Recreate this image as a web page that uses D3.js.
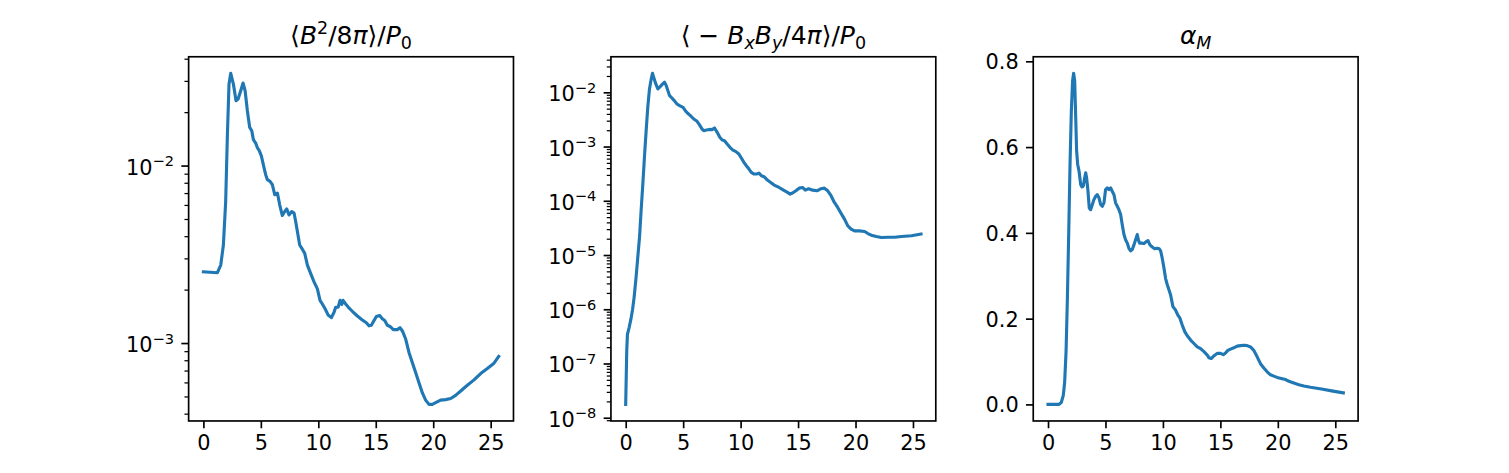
<!DOCTYPE html>
<html><head><meta charset="utf-8">
<script src="https://cdn.jsdelivr.net/npm/d3@7"></script>
<style>html,body{margin:0;padding:0;background:#fff;} svg{display:block;} text{font-family:"DejaVu Sans",sans-serif;fill:#000;}</style>
</head><body>
<svg id="chart" width="1509" height="473"></svg>
<script>
// ---------- data ----------
const t1 = [0,1.22,1.51,1.74,1.94,2.09,2.23,2.38,2.61,2.84,3.02,3.25,3.45,3.63,3.83,4.03,4.21,4.35,4.55,4.70,4.87,5.05,5.22,5.42,5.57,5.80,6.00,6.21,6.44,6.64,6.87,7.08,7.25,7.45,7.69,7.89,8.03,8.18,8.38,8.61,8.82,9.05,9.34,9.63,9.92,10.15,10.35,10.59,10.85,11.14,11.37,11.51,11.72,11.89,12.04,12.15,12.38,12.62,12.96,13.40,13.83,14.18,14.41,14.62,14.85,15.05,15.34,15.57,15.78,16.01,16.24,16.53,16.88,17.11,17.32,17.61,17.89,18.18,18.47,18.76,19.05,19.34,19.63,19.92,20.21,20.65,21.08,21.52,21.95,22.39,22.97,23.55,24.13,24.71,25.29,25.7];
const magPressure = [2.52e-3,2.49e-3,2.75e-3,3.57e-3,6.28e-3,0.0150,0.0288,0.0331,0.0288,0.0232,0.0237,0.0264,0.0292,0.0264,0.0203,0.0164,0.0157,0.0140,0.0134,0.0126,0.0121,0.0113,0.0101,8.89e-3,8.33e-3,8.15e-3,7.80e-3,6.85e-3,7.00e-3,6.01e-3,5.23e-3,5.51e-3,5.70e-3,5.27e-3,5.51e-3,5.40e-3,4.84e-3,4.25e-3,3.57e-3,3.38e-3,3.20e-3,2.75e-3,2.46e-3,2.21e-3,2.02e-3,1.74e-3,1.66e-3,1.56e-3,1.44e-3,1.39e-3,1.49e-3,1.59e-3,1.59e-3,1.74e-3,1.65e-3,1.74e-3,1.66e-3,1.59e-3,1.51e-3,1.42e-3,1.35e-3,1.30e-3,1.25e-3,1.26e-3,1.34e-3,1.41e-3,1.43e-3,1.37e-3,1.34e-3,1.26e-3,1.24e-3,1.19e-3,1.19e-3,1.22e-3,1.17e-3,1.05e-3,8.85e-4,7.77e-4,6.82e-4,5.98e-4,5.25e-4,4.77e-4,4.51e-4,4.51e-4,4.61e-4,4.77e-4,4.80e-4,4.87e-4,5.07e-4,5.37e-4,5.78e-4,6.20e-4,6.73e-4,7.18e-4,7.70e-4,8.40e-4];

const t2 = [0,0.09,0.15,0.30,0.45,0.60,0.73,0.90,1.05,1.20,1.34,1.49,1.63,1.78,1.92,2.07,2.22,2.33,2.48,2.62,2.80,3.00,3.21,3.38,3.53,3.67,3.82,4.02,4.23,4.46,4.69,4.99,5.19,5.39,5.63,5.92,6.21,6.41,6.65,6.79,7.03,7.29,7.52,7.73,7.96,8.19,8.40,8.60,8.83,9.07,9.33,9.56,9.85,10.06,10.29,10.50,10.73,10.93,11.17,11.40,11.60,11.81,12.04,12.33,12.62,12.92,13.35,13.73,14.08,14.31,14.52,14.81,15.10,15.39,15.63,15.92,16.27,16.65,17.00,17.29,17.58,17.87,18.16,18.45,18.75,19.04,19.33,19.62,19.91,20.35,20.79,21.08,21.37,21.81,22.24,22.83,23.41,23.99,24.87,25.7];
const maxwellStress = [1.76e-8,1.70e-7,3.45e-7,4.6e-7,6.5e-7,1.0e-6,1.64e-6,3.84e-6,8.99e-6,2.10e-5,6.53e-5,2.03e-4,6.31e-4,1.96e-3,5.28e-3,0.01153,0.0176,0.0224,0.0176,0.01426,0.01153,0.01273,0.01426,0.01531,0.01327,0.01074,8.68e-3,7.86e-3,7.02e-3,6.09e-3,5.67e-3,5.28e-3,4.59e-3,4.10e-3,3.71e-3,3.22e-3,2.92e-3,2.53e-3,2.10e-3,1.96e-3,2.02e-3,2.07e-3,2.05e-3,2.20e-3,1.83e-3,1.48e-3,1.32e-3,1.28e-3,1.11e-3,9.66e-4,8.62e-4,8.14e-4,7.28e-4,6.14e-4,5.11e-4,4.43e-4,3.85e-4,3.34e-4,3.11e-4,3.11e-4,3.24e-4,2.90e-4,2.78e-4,2.41e-4,2.18e-4,1.95e-4,1.76e-4,1.57e-4,1.43e-4,1.33e-4,1.39e-4,1.53e-4,1.71e-4,1.76e-4,1.57e-4,1.67e-4,1.57e-4,1.53e-4,1.67e-4,1.71e-4,1.53e-4,1.24e-4,9.31e-5,7.53e-5,5.84e-5,4.59e-5,3.45e-5,3.00e-5,2.79e-5,2.79e-5,2.72e-5,2.49e-5,2.32e-5,2.20e-5,2.10e-5,2.13e-5,2.13e-5,2.20e-5,2.26e-5,2.43e-5];

const t3 = [0,0.96,1.16,1.33,1.45,1.57,1.68,1.80,1.91,2.03,2.14,2.23,2.32,2.41,2.49,2.58,2.70,2.84,2.96,3.07,3.19,3.28,3.36,3.48,3.59,3.71,3.86,4.00,4.14,4.29,4.43,4.58,4.72,4.87,5.01,5.16,5.30,5.45,5.59,5.74,5.88,6.03,6.17,6.32,6.46,6.61,6.75,6.90,7.04,7.19,7.33,7.48,7.62,7.77,7.86,7.97,8.14,8.35,8.52,8.70,8.87,9.07,9.28,9.51,9.68,9.80,9.94,10.09,10.23,10.38,10.67,10.87,11.10,11.30,11.48,11.68,11.91,12.12,12.41,12.70,12.99,13.28,13.57,13.86,14.00,14.20,14.43,14.72,15.01,15.25,15.45,15.65,15.88,16.17,16.46,16.75,17.04,17.33,17.62,17.91,18.20,18.49,18.78,19.07,19.36,19.65,19.94,20.38,20.67,20.96,21.39,21.83,22.26,22.84,23.8,24.8,25.7];
const alphaM = [0,0,0.005,0.021,0.052,0.123,0.240,0.396,0.552,0.684,0.755,0.772,0.755,0.669,0.591,0.560,0.544,0.513,0.507,0.509,0.528,0.540,0.528,0.497,0.458,0.454,0.466,0.478,0.485,0.489,0.482,0.466,0.462,0.470,0.501,0.505,0.501,0.505,0.497,0.489,0.470,0.462,0.454,0.443,0.419,0.396,0.384,0.376,0.364,0.358,0.361,0.372,0.384,0.396,0.384,0.376,0.376,0.375,0.379,0.382,0.372,0.367,0.363,0.364,0.363,0.358,0.341,0.318,0.294,0.279,0.255,0.228,0.220,0.208,0.201,0.185,0.169,0.160,0.150,0.142,0.134,0.130,0.123,0.115,0.109,0.107,0.113,0.119,0.119,0.116,0.120,0.126,0.129,0.132,0.136,0.137,0.138,0.137,0.134,0.126,0.111,0.095,0.085,0.076,0.069,0.066,0.063,0.060,0.058,0.054,0.050,0.046,0.043,0.040,0.036,0.031,0.027];

const xTicks = [0,5,10,15,20,25];
const yTicks1 = [1e-3,1e-2];
const yTicks2 = [1e-8,1e-7,1e-6,1e-5,1e-4,1e-3,1e-2];
const yTicks3 = [0,0.2,0.4,0.6,0.8];

// titles: segments [text, style] style: i=italic, sup, sub, isub
const title1 = [["⟨",""],["B","i"],["2","sup"],["/8",""],["π","i"],["⟩/",""],["P","i"],["0","sub"]];
const title2 = [["⟨ − ",""],["B","i"],["x","isub"],["B","i"],["y","isub"],["/4",""],["π","i"],["⟩/",""],["P","i"],["0","sub"]];
const title3 = [["α","i"],["M","isub"]];

// ---------- layout ----------
const W = 1509, H = 473, pt = 150/72;
const figL = 0.125*W, figR = 0.9*W, axTop = H*(1-0.88), axBot = H*(1-0.11);
const axW = (figR-figL)/(3+2*0.3), gap = 0.3*axW;
const color = "#1f77b4";
const svg = d3.select("#chart");

function linDomain(v){const a=d3.min(v),b=d3.max(v),p=0.05*(b-a);return [a-p,b+p];}
function logDomain(v){const a=Math.log10(d3.min(v)),b=Math.log10(d3.max(v)),p=0.05*(b-a);return [Math.pow(10,a-p),Math.pow(10,b+p)];}

function richText(g, segs, x, y, size){
  const t = g.append("text").attr("x",x).attr("y",y).attr("text-anchor","middle").style("font-size",size+"px");
  let cur = 0;
  segs.forEach(([s,st])=>{
    let shift=0, fs=size, it=false;
    if(st==="i") it=true;
    if(st==="sup"){shift=-0.40*size; fs=0.7*size;}
    if(st==="sub"){shift=0.2*size; fs=0.7*size;}
    if(st==="isub"){shift=0.2*size; fs=0.7*size; it=true;}
    t.append("tspan").attr("dy",shift-cur).style("font-size",fs+"px").style("font-style",it?"italic":"normal").text(s);
    cur = shift;
  });
  return t;
}

function panel(i, xs, ys, isLog, majors, title){
  const left = figL + i*(axW+gap);
  const g = svg.append("g");
  const x = d3.scaleLinear().domain(linDomain(xs)).range([left, left+axW]);
  const y = (isLog? d3.scaleLog().domain(logDomain(ys)) : d3.scaleLinear().domain(linDomain(ys))).range([axBot, axTop]);
  const cid = "clip"+i;
  svg.append("clipPath").attr("id",cid).append("rect").attr("x",left).attr("y",axTop).attr("width",axW).attr("height",axBot-axTop);
  const pts = xs.map((v,k)=>[v, ys[k]]);
  g.append("path").datum(pts).attr("clip-path",`url(#${cid})`)
    .attr("d", d3.line().x(d=>x(d[0])).y(d=>y(d[1])))
    .attr("fill","none").attr("stroke",color).attr("stroke-width",1.5*pt)
    .attr("stroke-linejoin","round").attr("stroke-linecap","square");
  // frame
  g.append("rect").attr("x",left).attr("y",axTop).attr("width",axW).attr("height",axBot-axTop)
    .attr("fill","none").attr("stroke","#000").attr("stroke-width",0.8*pt);
  // x axis
  const xa = g.append("g").attr("transform",`translate(0,${axBot})`)
    .call(d3.axisBottom(x).tickValues(xTicks).tickFormat(d3.format("d")).tickSize(3.5*pt).tickPadding(3.5*pt));
  xa.select(".domain").remove();
  xa.selectAll("line").attr("stroke-width",0.8*pt);
  xa.selectAll("text").style("font-size",(10*pt)+"px").attr("font-family",null);
  // y axis
  if(!isLog){
    const ya = g.append("g").attr("transform",`translate(${left},0)`)
      .call(d3.axisLeft(y).tickValues(majors).tickFormat(d3.format(".1f")).tickSize(3.5*pt).tickPadding(3.5*pt));
    ya.select(".domain").remove();
    ya.selectAll("line").attr("stroke-width",0.8*pt);
    ya.selectAll("text").style("font-size",(10*pt)+"px").attr("font-family",null).attr("dy","0.36em");
  } else {
    const [d0,d1] = y.domain();
    const minors=[];
    for(let k=Math.floor(Math.log10(d0));k<=Math.ceil(Math.log10(d1));k++){
      for(let s=2;s<=9;s++){const v=s*Math.pow(10,k); if(v>=d0&&v<=d1) minors.push(v);}
    }
    const ym = g.append("g").attr("transform",`translate(${left},0)`)
      .call(d3.axisLeft(y).tickValues(minors).tickFormat("").tickSize(2*pt));
    ym.select(".domain").remove();
    ym.selectAll("line").attr("stroke-width",0.6*pt);
    const ya = g.append("g").attr("transform",`translate(${left},0)`)
      .call(d3.axisLeft(y).tickValues(majors).tickFormat("").tickSize(3.5*pt));
    ya.select(".domain").remove();
    ya.selectAll("line").attr("stroke-width",0.8*pt);
    const fs = 10*pt;
    majors.forEach(v=>{
      const e = Math.round(Math.log10(v));
      const t = g.append("text").attr("x", left-7*pt).attr("y", y(v)+0.43*fs)
        .attr("text-anchor","end").style("font-size",fs+"px");
      t.append("tspan").text("10");
      t.append("tspan").attr("dy",-0.40*fs).style("font-size",(0.7*fs)+"px").text("−"+Math.abs(e));
    });
  }
  richText(g, title, left+axW/2, axTop-6*pt, 12*pt);
}

panel(0, t1, magPressure, true, yTicks1, title1);
panel(1, t2, maxwellStress, true, yTicks2, title2);
panel(2, t3, alphaM, false, yTicks3, title3);
</script>
</body></html>
